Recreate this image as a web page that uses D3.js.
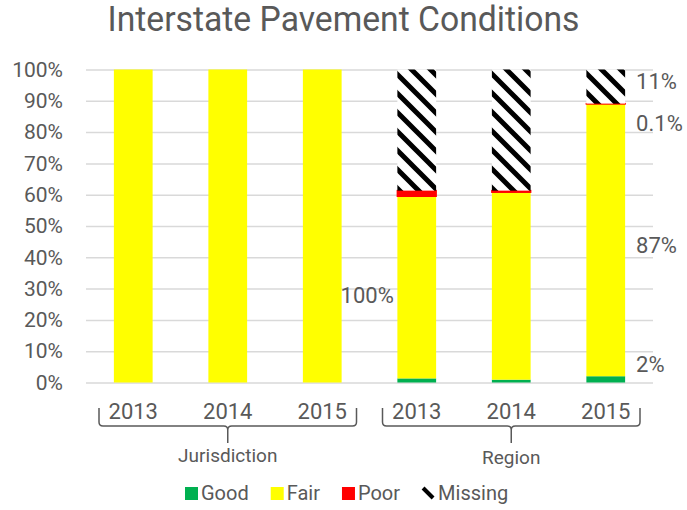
<!DOCTYPE html>
<html>
<head>
<meta charset="utf-8">
<style type="text/css">
    body { margin: 0; background: #fff; }
    text { font-family: Roboto, "Open Sans", sans-serif; fill: #595959; }
</style>
</head>
<body>
<div id="chart"></div>
<script src="https://cdn.jsdelivr.net/npm/d3@7"></script>
<script>
// data (percent of lane miles)
var groups = ["Jurisdiction", "Region"];
var years = ["2013", "2014", "2015"];
var good = [0, 0, 0, 1.3, 0.9, 2];
var fair = [100, 100, 100, 58.2, 59.9, 87];
var poor = [0, 0, 0, 1.8, 0.5, 0.1];
var missing = [0, 0, 0, 38.7, 38.7, 10.9];
var yTicks = [0, 10, 20, 30, 40, 50, 60, 70, 80, 90, 100];
var labelText = ["100%", "11%", "0.1%", "87%", "2%"];
var labelBar = [2, 5, 5, 5, 5];      // which bar each label sits beside
var labelAt = [28, 96.3, 83, 44, 6];  // label height in percent units

(function () {
    var W = 687, H = 510;
    var plotLeft = 86, plotRight = 653, plotTop = 69.5, plotBottom = 382.5;

    var svg = d3.select("#chart").append("svg")
        .attr("width", W).attr("height", H);

    var defs = svg.append("defs");
    var pat = defs.append("pattern")
        .attr("id", "hatch")
        .attr("patternUnits", "userSpaceOnUse")
        .attr("width", 19).attr("height", 19);
    pat.append("rect").attr("width", 19).attr("height", 19).attr("fill", "#fff");
    pat.append("path")
        .attr("d", "M-5,-5L24,24M-10,9L10,29M9,-10L29,10")
        .attr("stroke", "#000").attr("stroke-width", 5);

    var keys = ["Good", "Fair", "Poor", "Missing"];
    var colors = { Good: "#00b050", Fair: "#ffff00", Poor: "#ff0000", Missing: "url(#hatch)" };
    var seriesVals = { Good: good, Fair: fair, Poor: poor, Missing: missing };

    var cats = [];
    groups.forEach(function (g) {
        years.forEach(function (yr) { cats.push(g + "|" + yr); });
    });
    var rows = cats.map(function (c, i) {
        var r = { cat: c };
        keys.forEach(function (k) { r[k] = seriesVals[k][i]; });
        return r;
    });

    var x = d3.scaleBand().domain(cats).range([plotLeft, plotRight])
        .paddingInner(0.59).paddingOuter(0.295);
    var y = d3.scaleLinear().domain([0, 100]).range([plotBottom, plotTop]);

    // title
    svg.append("text")
        .attr("x", W / 2).attr("y", 31)
        .attr("text-anchor", "middle")
        .attr("font-size", 35)
        .attr("textLength", 472).attr("lengthAdjust", "spacingAndGlyphs")
        .text("Interstate Pavement Conditions");

    // gridlines + y labels
    var yAxis = d3.axisLeft(y).tickValues(yTicks)
        .tickSize(-(plotRight - plotLeft)).tickPadding(23)
        .tickFormat(function (d) { return d + "%"; });
    var ga = svg.append("g").attr("transform", "translate(" + plotLeft + ",0)").call(yAxis);
    ga.select(".domain").remove();
    ga.selectAll(".tick line").attr("stroke", "#d9d9d9").attr("stroke-width", 1.5);
    ga.selectAll(".tick text").attr("font-size", 21).attr("fill", "#595959")
        .style("font-family", "Roboto, sans-serif");

    // stacked bars
    var stack = d3.stack().keys(keys)(rows);
    var layer = svg.selectAll(".layer").data(stack).enter().append("g")
        .attr("class", "layer")
        .attr("fill", function (d) { return colors[d.key]; });
    layer.selectAll("rect").data(function (d) { return d; }).enter().append("rect")
        .attr("x", function (d) { return x(d.data.cat); })
        .attr("width", x.bandwidth())
        .attr("y", function (d) { return y(d[1]); })
        .attr("height", function (d) { return y(d[0]) - y(d[1]); })
        .attr("stroke", function (d) {
            var k = d3.select(this.parentNode).datum().key;
            return (k === "Poor" && d[1] > d[0]) ? "#ff0000" : "none";
        })
        .attr("stroke-width", 1.5);

    // data labels
    labelText.forEach(function (t, i) {
        svg.append("text")
            .attr("x", x(cats[labelBar[i]]) + x.bandwidth() + (i === 0 ? -1 : 11))
            .attr("y", y(labelAt[i]) + 8)
            .attr("font-size", 22)
            .attr("fill", (t === "11%" || t === "2%") ? "#1a1a1a" : "#595959")
            .text(t);
    });

    // year labels
    svg.selectAll(".yr").data(cats).enter().append("text")
        .attr("class", "yr")
        .attr("x", function (d) { return x(d) + x.bandwidth() / 2; })
        .attr("y", 419)
        .attr("text-anchor", "middle")
        .attr("font-size", 22)
        .text(function (d) { return d.split("|")[1]; });

    // group brackets
    groups.forEach(function (g, gi) {
        var x0 = x(cats[gi * 3]) - x.step() * 0.295 + 13;
        var x1 = x(cats[gi * 3 + 2]) + x.bandwidth() + x.step() * 0.295 - 13;
        var xm = (x0 + x1) / 2;
        var t = 408, h = 426, r = 4;
        var p = d3.path();
        p.moveTo(x0, t); p.lineTo(x0, h - r); p.quadraticCurveTo(x0, h, x0 + r, h);
        p.lineTo(xm - r, h); p.quadraticCurveTo(xm, h, xm, h + r); p.lineTo(xm, h + 17);
        p.moveTo(xm, h + r); p.quadraticCurveTo(xm, h, xm + r, h);
        p.lineTo(x1 - r, h); p.quadraticCurveTo(x1, h, x1, h - r); p.lineTo(x1, t);
        svg.append("path").attr("d", p.toString())
            .attr("fill", "none").attr("stroke", "#595959").attr("stroke-width", 1.5);
        svg.append("text")
            .attr("x", xm).attr("y", 462 + gi * 2)
            .attr("text-anchor", "middle")
            .attr("font-size", 19)
            .text(g);
    });

    // legend
    var lx = 185, ly = 487;
    keys.forEach(function (k) {
        if (k === "Missing") {
            svg.append("path")
                .attr("d", "M" + (lx + 1) + "," + (ly + 1) + "L" + (lx + 11) + "," + (ly + 11))
                .attr("stroke", "#000").attr("stroke-width", 4);
        } else {
            svg.append("rect").attr("x", lx).attr("y", ly).attr("width", 13).attr("height", 13)
                .attr("fill", colors[k]);
        }
        var t = svg.append("text").attr("x", lx + 16).attr("y", ly + 13)
            .attr("font-size", 20).text(k);
        lx += 16 + t.node().getComputedTextLength() + 22;
    });
})();
</script>
</body>
</html>
